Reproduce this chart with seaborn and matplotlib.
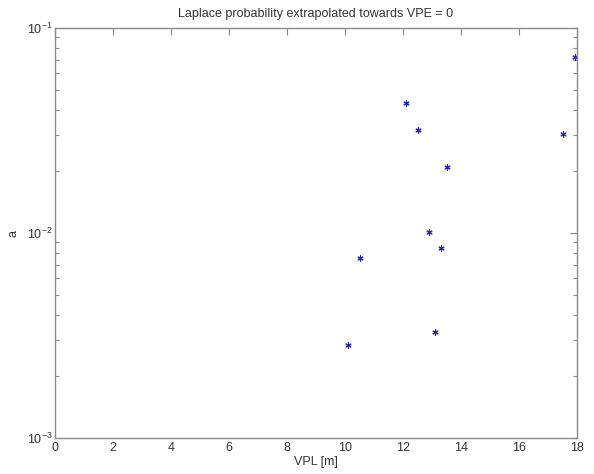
import matplotlib
matplotlib.use("Agg")
import matplotlib.pyplot as plt
import seaborn as sns
import pandas as pd
from matplotlib.ticker import LogLocator

# VPL values [m] and extrapolated Laplace probability a
vpl = [17.93, 17.53, 12.11, 12.51, 13.51, 12.91, 13.31, 10.52, 13.11, 10.11]
prob_a = [0.0724, 0.0305, 0.0433, 0.0319, 0.0210, 0.01015, 0.00847, 0.00753, 0.00328, 0.00283]

x_ticks = [0, 2, 4, 6, 8, 10, 12, 14, 16, 18]
title_text = "Laplace probability extrapolated towards VPE = 0"
x_label = "VPL [m]"
y_label = "a"

sns.set_theme(style="white")
plt.rcParams["font.family"] = ["Liberation Sans", "DejaVu Sans"]
plt.rcParams["mathtext.fontset"] = "custom"
plt.rcParams["mathtext.rm"] = "Liberation Sans"
plt.rcParams["mathtext.it"] = "Liberation Sans"

df = pd.DataFrame({"VPL": vpl, "a": prob_a})

fig = plt.figure(figsize=(5.94, 4.74), dpi=100)
ax = fig.add_axes([55 / 594, 1 - 438 / 474, 522 / 594, 410 / 474])

sns.scatterplot(data=df, x="VPL", y="a", ax=ax, marker=(6, 2, 0), s=14,
                color="#2a2ab0", linewidth=0.9, edgecolor="#2a2ab0", legend=False)

ax.set_yscale("log")
ax.set_xlim(0, 18)
ax.set_ylim(1e-3, 1e-1)
ax.set_xticks(x_ticks)
ax.yaxis.set_major_locator(LogLocator(base=10, numticks=5))
ax.yaxis.set_minor_locator(LogLocator(base=10, subs=range(2, 10), numticks=20))

axis_grey = "#8a8a8a"
for sp in ax.spines.values():
    sp.set_color(axis_grey)
    sp.set_linewidth(1.0)

ax.tick_params(axis="both", which="both", direction="in", top=True, right=True,
               color=axis_grey, labelcolor="#333333", labelsize=9)
ax.tick_params(axis="both", which="major", length=5, width=0.8)
ax.tick_params(axis="y", which="minor", length=3, width=0.8, left=True, right=True)
ax.tick_params(axis="y", which="major", pad=2)
ax.tick_params(axis="x", which="major", pad=3)

ax.set_title(title_text, fontsize=9, color="#333333", pad=8)
ax.set_xlabel(x_label, fontsize=9, color="#333333", labelpad=1)
ax.set_ylabel(y_label, fontsize=9, color="#333333")
ax.yaxis.set_label_coords(-0.068, 0.5)

fig.savefig("out.png", dpi=100, facecolor="white")
